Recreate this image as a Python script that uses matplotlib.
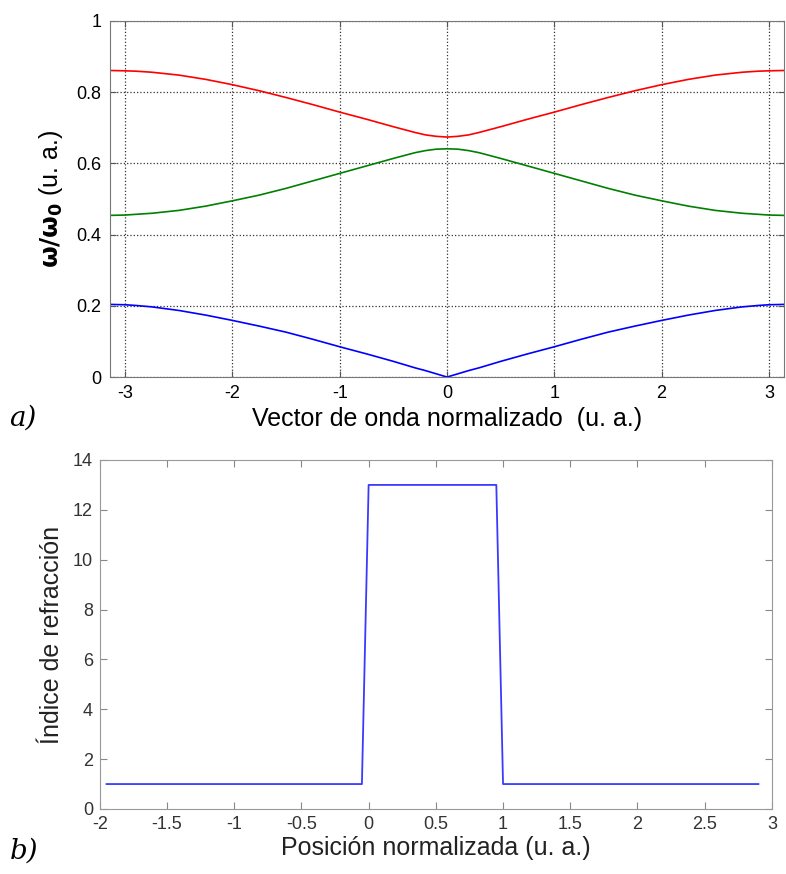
import numpy as np
import matplotlib
matplotlib.use("Agg")
import matplotlib.pyplot as plt

plt.rcParams['font.family'] = ['Liberation Sans', 'DejaVu Sans']
plt.rcParams['mathtext.fontset'] = 'dejavusans'
plt.rcParams['axes.unicode_minus'] = False

# band structure, read for k >= 0 (curves are symmetric about k = 0)
k_half = [0, 0.1, 0.2, 0.3, 0.4, 0.5, 0.75, 1.0, 1.25, 1.5, 1.75, 2.0, 2.25, 2.5,
          2.75, 2.9, 3.0, np.pi]
band1 = [0, 0.009, 0.018, 0.026, 0.035, 0.044, 0.065, 0.085, 0.106, 0.126, 0.143,
         0.159, 0.174, 0.187, 0.197, 0.201, 0.203, 0.204]
band2 = [0.641, 0.640, 0.636, 0.630, 0.622, 0.614, 0.593, 0.572, 0.551, 0.530, 0.511,
         0.495, 0.480, 0.468, 0.460, 0.457, 0.455, 0.454]
band3 = [0.674, 0.676, 0.680, 0.687, 0.695, 0.703, 0.724, 0.744, 0.765, 0.785, 0.804,
         0.821, 0.836, 0.848, 0.856, 0.859, 0.860, 0.861]
band_colors = ['#0000ff', '#008000', '#ff0000']

# refractive index profile
pos = [-1.95, -0.05, 0.0, 0.95, 1.0, 2.9]
n_idx = [1, 1, 13, 13, 1, 1]


def mirror(v, sign=1):
    v = np.asarray(v, dtype=float)
    return np.concatenate([sign * v[:0:-1], v])


fig = plt.figure(figsize=(7.86, 8.74), dpi=100)

# a) bands
ax1 = fig.add_axes([0.140, 0.5686, 0.8575, 0.4074])
kk = mirror(k_half, -1)
for b, c in zip([band1, band2, band3], band_colors):
    ax1.plot(kk, mirror(b), color=c, lw=1.2)
ax1.set_xlim(-np.pi, np.pi)
ax1.set_ylim(0, 1)
ax1.set_xticks([-3, -2, -1, 0, 1, 2, 3])
ax1.set_yticks([0, 0.2, 0.4, 0.6, 0.8, 1])
ax1.set_yticklabels(['0', '0.2', '0.4', '0.6', '0.8', '1'])
ax1.grid(True, color='#333333', ls=':', lw=0.9)
ax1.tick_params(direction='in', length=4, top=True, right=True, labelsize=13, color='#555555', pad=6)
for s in ax1.spines.values():
    s.set_color('#777777')
ax1.set_xlabel('Vector de onda normalizado  (u. a.)', fontsize=18, labelpad=3)
ax1.set_ylabel(r'$\mathbf{\omega/\omega_0}$ (u. a.)', fontsize=18, labelpad=8)

# b) index
ax2 = fig.add_axes([0.127, 0.0744, 0.855, 0.3993])
ax2.plot(pos, n_idx, color='#3a3aff', lw=1.3)
ax2.set_xlim(-2, 3)
ax2.set_ylim(0, 14)
ax2.set_xticks([-2, -1.5, -1, -0.5, 0, 0.5, 1, 1.5, 2, 2.5, 3])
ax2.set_xticklabels(['-2', '-1.5', '-1', '-0.5', '0', '0.5', '1', '1.5', '2', '2.5', '3'])
ax2.set_yticks(range(0, 15, 2))
ax2.tick_params(direction='in', length=5, top=True, right=True, labelsize=13,
                color='#888888', labelcolor='#333333', pad=5)
for s in ax2.spines.values():
    s.set_color('#999999')
ax2.set_xlabel('Posición normalizada (u. a.)', fontsize=18, color='#222222', labelpad=2)
ax2.set_ylabel('Índice de refracción', fontsize=18, color='#222222', labelpad=6)

fig.text(0.012, 0.513, 'a)', fontsize=20, style='italic', family='DejaVu Serif')
fig.text(0.012, 0.018, 'b)', fontsize=20, style='italic', family='DejaVu Serif')

fig.savefig('out.png', dpi=100)
